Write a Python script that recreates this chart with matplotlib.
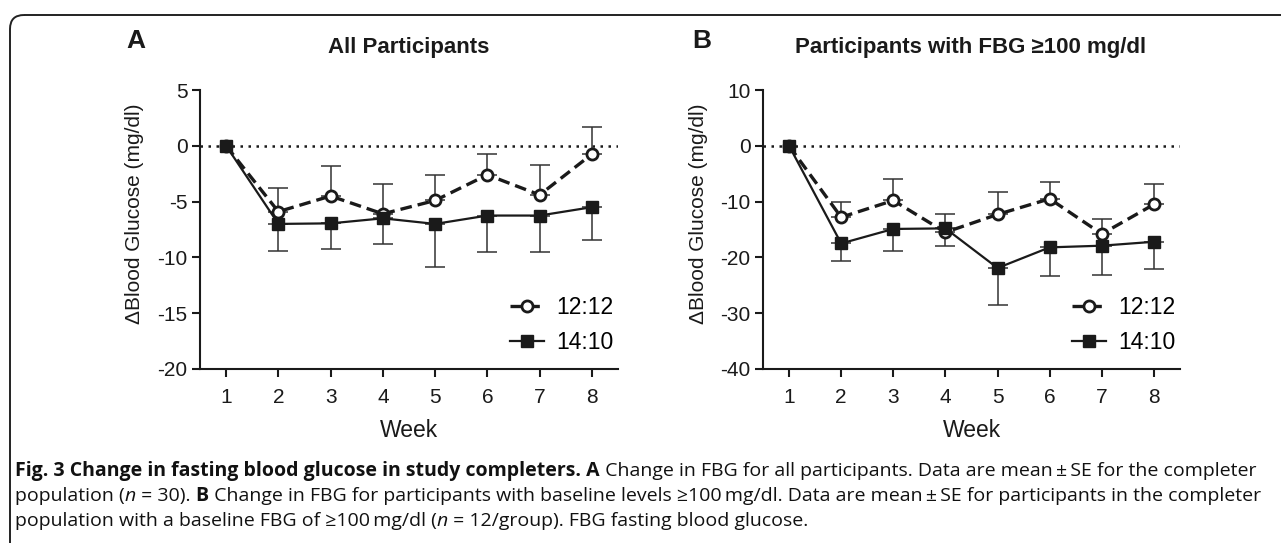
import matplotlib
matplotlib.use('Agg')
import matplotlib.pyplot as plt
from matplotlib.patches import FancyBboxPatch
import numpy as np

weeks = [1, 2, 3, 4, 5, 6, 7, 8]
labels = ['12:12', '14:10']

# panel A: all participants (mean, SE)
all_1212_mean = [0, -5.9, -4.5, -6.1, -4.9, -2.6, -4.4, -0.75]
all_1212_se = [0, 2.1, 2.7, 2.7, 2.25, 1.85, 2.65, 2.45]
all_1410_mean = [0, -7.0, -6.95, -6.5, -7.0, -6.25, -6.25, -5.5]
all_1410_se = [0, 2.4, 2.3, 2.3, 3.9, 3.25, 3.25, 2.9]

# panel B: participants with FBG >= 100 mg/dl
hi_1212_mean = [0, -12.8, -9.8, -15.5, -12.3, -9.5, -15.8, -10.5]
hi_1212_se = [0, 2.7, 3.8, 3.2, 4.05, 3.05, 2.6, 3.6]
hi_1410_mean = [0, -17.5, -14.9, -14.8, -21.9, -18.2, -17.9, -17.2]
hi_1410_se = [0, 3.1, 4.0, 3.1, 6.7, 5.1, 5.3, 4.9]

yticks_a = [5, 0, -5, -10, -15, -20]
yticks_b = [10, 0, -10, -20, -30, -40]

plt.rcParams['font.family'] = ['Liberation Sans', 'DejaVu Sans']
plt.rcParams['axes.unicode_minus'] = False
ink = '#1a1a1a'

fig = plt.figure(figsize=(12.81, 5.43), dpi=100)

# background axes in pixel units, for the frame and caption
bg = fig.add_axes([0, 0, 1, 1])
bg.set_xlim(0, 1281)
bg.set_ylim(543, 0)
bg.axis('off')
bg.add_patch(FancyBboxPatch((10, 15), 1320, 580, boxstyle='round,pad=0,rounding_size=14',
                            fc='none', ec='#222222', lw=1.4))


def panel(rect, m1, e1, m2, e2, yticks, title, letter, title_x, letter_x, ylab_x):
    ax = fig.add_axes(rect)
    ax.set_facecolor('none')
    ax.axhline(0, color=ink, lw=1.8, ls=(0, (1, 2.2)), zorder=1)
    w = np.array(weeks[1:])
    ax.errorbar(w, m1[1:], yerr=[np.zeros(7), e1[1:]], fmt='none', ecolor='#333333',
                elinewidth=1.1, capsize=7, capthick=1.1, zorder=2)
    ax.errorbar(w, m2[1:], yerr=[e2[1:], np.zeros(7)], fmt='none', ecolor='#333333',
                elinewidth=1.1, capsize=7, capthick=1.1, zorder=2)
    l1, = ax.plot(weeks, m1, color=ink, lw=2.4, ls=(0, (3.5, 1.8)), marker='o', ms=8,
                  mfc='white', mec=ink, mew=2, zorder=3)
    l2, = ax.plot(weeks, m2, color=ink, lw=1.6, marker='s', ms=8.5, mfc=ink, mec=ink, zorder=4)
    ax.set_xlim(0.5, 8.5)
    ax.set_ylim(yticks[-1], yticks[0])
    ax.set_xticks(weeks)
    ax.set_yticks(yticks)
    for s in ['top', 'right']:
        ax.spines[s].set_visible(False)
    for s in ['left', 'bottom']:
        ax.spines[s].set_linewidth(1.5)
        ax.spines[s].set_color(ink)
    ax.tick_params(direction='out', length=6, width=1.5, color=ink, labelsize=15, pad=3,
                   labelcolor=ink)
    ax.tick_params(axis='x', pad=8)
    ax.set_xlabel('Week', fontsize=16.5, color=ink, labelpad=8)
    ax.legend([l1, l2], labels, loc='center right', bbox_to_anchor=(0.99, 0.158), frameon=False,
              fontsize=16.5, handlelength=1.5, handletextpad=0.55, labelspacing=0.53,
              borderpad=0, borderaxespad=0)
    bg.text(ylab_x, 214, '\u0394Blood Glucose (mg/dl)', rotation=90, fontsize=15, color=ink,
            ha='center', va='center')
    bg.text(title_x, 47, title, fontsize=16, fontweight='bold', ha='center', va='center', color=ink)
    bg.text(letter_x, 41, letter, fontsize=19, fontweight='bold', ha='left', va='center', color=ink)
    return ax


panel([200 / 1281, 1 - 369 / 543, 418 / 1281, 279 / 543], all_1212_mean, all_1212_se,
      all_1410_mean, all_1410_se, yticks_a, 'All Participants', 'A', 409, 126, 135)
panel([763 / 1281, 1 - 369 / 543, 417 / 1281, 279 / 543], hi_1212_mean, hi_1212_se,
      hi_1410_mean, hi_1410_se, yticks_b, 'Participants with FBG \u2265100 mg/dl', 'B', 971, 692, 698)

# caption, drawn run by run so bold / italic parts sit inline
cap_font = ['Open Sans', 'DejaVu Sans']
cap_size = 14
renderer = fig.canvas.get_renderer()


def runs(parts, x, y):
    for s, weight, style in parts:
        t = bg.text(x, y, s, fontsize=cap_size, family=cap_font, fontweight=weight, fontstyle=style,
                    ha='left', va='baseline', color='#111111')
        x += t.get_window_extent(renderer=renderer).width


runs([('Fig. 3 Change in fasting blood glucose in study completers. A', 'bold', 'normal'),
      (' Change in FBG for all participants. Data are mean\u2009\u00b1\u2009SE for the completer', 'normal', 'normal')],
     15, 476)
runs([('population (', 'normal', 'normal'), ('n', 'normal', 'italic'),
      (' = 30). ', 'normal', 'normal'), ('B', 'bold', 'normal'),
      (' Change in FBG for participants with baseline levels \u2265100\u2009mg/dl. Data are mean\u2009\u00b1\u2009SE for participants in the completer', 'normal', 'normal')],
     15, 501)
runs([('population with a baseline FBG of \u2265100\u2009mg/dl (', 'normal', 'normal'), ('n', 'normal', 'italic'),
      (' = 12/group). FBG fasting blood glucose.', 'normal', 'normal')],
     15, 526)

fig.savefig('out.png', dpi=100)
